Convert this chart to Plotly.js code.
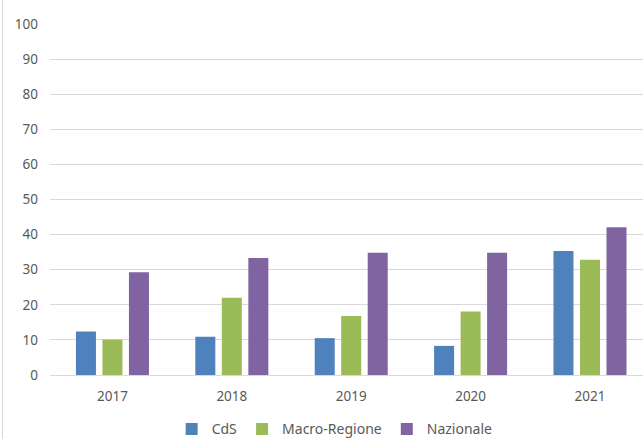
<!DOCTYPE html>
<html>
<head>
<meta charset="utf-8">
<script src="https://cdn.plot.ly/plotly-3.0.1.min.js"></script>
<style>
body{margin:0;background:#fff;}
#wrap{position:relative;width:643px;height:439px;overflow:hidden;}
#chart{position:absolute;left:0;top:0;width:643px;height:439px;}
#edge{position:absolute;left:2px;top:0;width:1px;height:439px;background:#d9d9d9;}
</style>
</head>
<body>
<div id="wrap"><div id="chart"></div><div id="edge"></div></div>
<script>
var years = ["2017", "2018", "2019", "2020", "2021"];
var cds = [12.4, 10.9, 10.5, 8.3, 35.3];
var macroRegione = [10.1, 22.0, 16.8, 18.1, 32.8];
var nazionale = [29.3, 33.3, 34.8, 34.8, 42.1];
var yTicks = [0, 10, 20, 30, 40, 50, 60, 70, 80, 90, 100];

var font = {family: "Noto Sans, Lato, sans-serif", size: 13.5, color: "#595959"};

var traces = [
  {type: "bar", name: "CdS", x: years, y: cds, marker: {color: "#4F81BD"}},
  {type: "bar", name: "Macro-Regione", x: years, y: macroRegione, marker: {color: "#9BBB59"}},
  {type: "bar", name: "Nazionale", x: years, y: nazionale, marker: {color: "#8064A2"}}
];

var layout = {
  width: 643, height: 439,
  margin: {l: 50, r: 0, t: 24, b: 64},
  paper_bgcolor: "rgba(0,0,0,0)",
  plot_bgcolor: "#ffffff",
  font: font,
  barmode: "group",
  bargap: 0.334,
  bargroupgap: 0.245,
  showlegend: true,
  legend: {orientation: "h", x: 0.48, xanchor: "center", xref: "paper",
           y: 0.022, yanchor: "middle", yref: "container",
           font: {family: font.family, size: 14, color: "#595959"}, traceorder: "normal",
           itemwidth: 30},
  xaxis: {type: "category", range: [-0.523, 4.444], showgrid: false, zeroline: false,
          showline: false, ticks: "", ticklabelstandoff: 11, tickfont: font, fixedrange: true,
          automargin: false},
  yaxis: {range: [0, 100], tickvals: yTicks, ticktext: yTicks.map(String), showgrid: true,
          gridcolor: "#d9d9d9", gridwidth: 1, zeroline: true, zerolinecolor: "#d9d9d9",
          zerolinewidth: 1, showline: false, ticks: "", ticklabelstandoff: 11, tickfont: font,
          fixedrange: true, automargin: false}
};

Plotly.newPlot("chart", traces, layout, {displayModeBar: false, staticPlot: true});
</script>
</body>
</html>
